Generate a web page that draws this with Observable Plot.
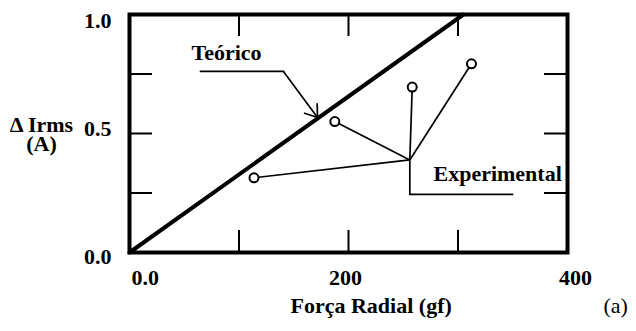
<!DOCTYPE html>
<html>
<head>
<meta charset="utf-8">
<script src="https://cdn.jsdelivr.net/npm/d3@7"></script>
<script src="https://cdn.jsdelivr.net/npm/@observablehq/plot@0.6"></script>
<style>
  html, body { margin: 0; padding: 0; background: #fff; }
  #chart svg {
    font-family: "Liberation Serif", "DejaVu Serif", serif;
    font-size: 22px;
    font-weight: bold;
    background: #fff;
    overflow: visible;
  }
</style>
</head>
<body>
<div id="chart"></div>
<script>
// Radial force (gf) versus change in RMS current (A)
const forceTicks = [0, 200, 400];
const forceTickLabels = ["0.0", "200", "400"];
const currentTicks = [0, 0.5, 1];
const currentTickLabels = ["0.0", "0.5", "1.0"];
const minorForce = [100, 200, 300];
const minorCurrent = [0.25, 0.5, 0.75];

// theoretical straight line
const theoryForce = [0, 305];
const theoryCurrent = [0, 1.0];

// experimental measurements
const expForce = [113.7, 187.5, 258.2, 312.3];
const expCurrent = [0.314, 0.550, 0.695, 0.793];

// annotation leaders (data units)
const expHub = {force: 256, current: 0.389};
const expElbowForce = [256, 256, 349.8];
const expElbowCurrent = [0.389, 0.244, 0.244];
const teoLeaderForce = [64.8, 140.6];
const teoLeaderCurrent = [0.761, 0.761];
const teoArrowTip = {force: 171.7, current: 0.567};
const teoLabel = {text: "Teórico", force: 56.6, current: 0.838};
const expLabel = {text: "Experimental", force: 277.6, current: 0.328};

const yTitle = "Δ Irms\n(A)";
const xTitle = "Força Radial (gf)";
const panelTag = "(a)";

const theory = theoryForce.map((f, i) => ({force: f, current: theoryCurrent[i]}));
const points = expForce.map((f, i) => ({force: f, current: expCurrent[i]}));
const elbow = expElbowForce.map((f, i) => ({force: f, current: expElbowCurrent[i]}));
const teoLeader = teoLeaderForce.map((f, i) => ({force: f, current: teoLeaderCurrent[i]}));

const fmtX = d => forceTickLabels[forceTicks.indexOf(d)];
const fmtY = d => currentTickLabels[currentTicks.indexOf(d)];

const frameW = 636 - 129 - 69;
const frameH = 331 - 14 - 79;
const tickLen = 23;

const chart = Plot.plot({
  width: 636,
  height: 331,
  marginLeft: 129,
  marginRight: 69,
  marginTop: 14,
  marginBottom: 79,
  x: {domain: [0, 400]},
  y: {domain: [0, 1]},
  marks: [
    // inward ticks on all four sides
    Plot.tickY(minorCurrent, {y: d => d, insetRight: frameW - tickLen, strokeWidth: 2}),
    Plot.tickY(minorCurrent, {y: d => d, insetLeft: frameW - tickLen, strokeWidth: 2}),
    Plot.tickX(minorForce, {x: d => d, insetTop: frameH - 22, strokeWidth: 2}),
    Plot.tickX(minorForce, {x: d => d, insetBottom: frameH - 22, strokeWidth: 2}),

    // tick labels
    Plot.axisY([0], {tickSize: 0, tickPadding: 18, tickFormat: fmtY, dy: 4, label: null}),
    Plot.axisY([0.5], {tickSize: 0, tickPadding: 18, tickFormat: fmtY, dy: -5, label: null}),
    Plot.axisY([1], {tickSize: 0, tickPadding: 18, tickFormat: fmtY, dy: 6, label: null}),
    Plot.axisX([0], {tickSize: 0, tickPadding: 17, tickFormat: fmtX, textAnchor: "start", dx: 2, label: null}),
    Plot.axisX([200], {tickSize: 0, tickPadding: 17, tickFormat: fmtX, dx: -3, label: null}),
    Plot.axisX([400], {tickSize: 0, tickPadding: 17, tickFormat: fmtX, dx: 8, label: null}),

    // axis titles
    Plot.text([yTitle], {frameAnchor: "left", textAnchor: "middle", dx: -88, dy: 2, lineHeight: 0.85}),
    Plot.text([xTitle], {frameAnchor: "bottom", textAnchor: "start", dx: -58, dy: 60, letterSpacing: 0.4}),
    Plot.text([panelTag], {frameAnchor: "bottom", textAnchor: "start", dx: 255, dy: 60, fontWeight: "normal"}),

    // theoretical line
    Plot.line(theory, {x: "force", y: "current", strokeWidth: 4}),

    // experimental leader lines
    Plot.link(points, {x1: "force", y1: "current", x2: () => expHub.force, y2: () => expHub.current, strokeWidth: 1.7}),
    Plot.line(elbow, {x: "force", y: "current", strokeWidth: 1.7}),

    // experimental points
    Plot.dot(points, {x: "force", y: "current", r: 4.5, stroke: "#000", strokeWidth: 2, fill: "#fff"}),

    // "Teórico" callout with arrow
    Plot.line(teoLeader, {x: "force", y: "current", strokeWidth: 1.7}),
    Plot.arrow([teoArrowTip], {
      x1: () => teoLeaderForce[1], y1: () => teoLeaderCurrent[1],
      x2: "force", y2: "current",
      strokeWidth: 1.7, headLength: 12, headAngle: 70
    }),
    Plot.text([teoLabel], {x: "force", y: "current", text: "text", textAnchor: "start"}),
    Plot.text([expLabel], {x: "force", y: "current", text: "text", textAnchor: "start"}),

    Plot.frame({strokeWidth: 4})
  ]
});

document.getElementById("chart").appendChild(chart);
</script>
</body>
</html>
